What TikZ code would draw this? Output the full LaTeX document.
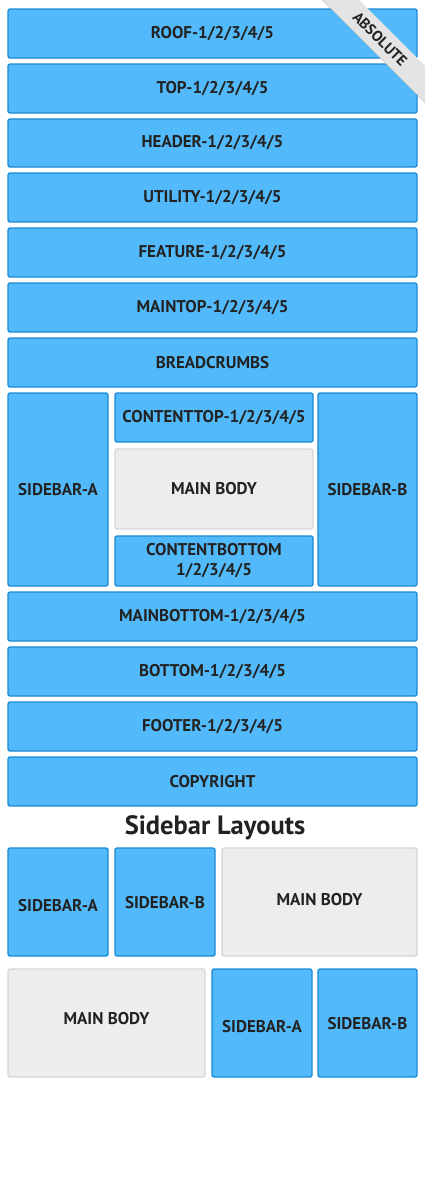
\documentclass[tikz,border=0pt]{standalone}
\usepackage{fontspec}
\setmainfont{PT Sans}
\definecolor{bfill}{HTML}{52B9FA}
\definecolor{bdraw}{HTML}{1A8AD6}
\definecolor{gfill}{HTML}{EDEDED}
\definecolor{gdraw}{HTML}{D6D6D6}
\definecolor{txt}{HTML}{222222}
\definecolor{ribbon}{HTML}{E4E4E4}
\tikzset{
  blk/.style={draw=bdraw, fill=bfill, line width=1.3pt, rounded corners=2pt, inner sep=0pt, outer sep=0pt,
    font=\bfseries\fontsize{17}{20}\selectfont, text=txt, align=center},
  gry/.style={blk, draw=gdraw, fill=gfill},
}
\newcommand{\bx}[7]{% style, name, x1, y1, x2, y2, text
  \node[#1, minimum width={(#5)-(#3)}, minimum height={(#6)-(#4)}] (#2) at ({((#3)+(#5))/2},{((#4)+(#6))/2}) {#7};}
\begin{document}
\begin{tikzpicture}[x=1pt,y=-1pt]
\useasboundingbox (0,0) rectangle (425,1200);
\fill[white] (0,0) rectangle (425,1200);
\bx{blk}{roof}{8}{9}{417}{58}{ROOF-1/2/3/4/5}
\bx{blk}{top}{8}{64}{417}{113}{TOP-1/2/3/4/5}
\bx{blk}{header}{8}{119}{417}{167}{HEADER-1/2/3/4/5}
\bx{blk}{utility}{8}{173}{417}{222}{UTILITY-1/2/3/4/5}
\bx{blk}{feature}{8}{228}{417}{277}{FEATURE-1/2/3/4/5}
\bx{blk}{maintop}{8}{283}{417}{332}{MAINTOP-1/2/3/4/5}
\bx{blk}{bread}{8}{338}{417}{387}{BREADCRUMBS}
\bx{blk}{sa}{8}{393}{108}{586}{SIDEBAR-A}
\bx{blk}{ctop}{115}{393}{313}{442}{CONTENTTOP-1/2/3/4/5}
\bx{gry}{main}{115}{449}{313}{529}{MAIN BODY}
\bx{blk}{cbot}{115}{536}{313}{586}{CONTENTBOTTOM\\1/2/3/4/5}
\bx{blk}{sb}{318}{393}{417}{586}{SIDEBAR-B}
\bx{blk}{mainbottom}{8}{592}{417}{641}{MAINBOTTOM-1/2/3/4/5}
\bx{blk}{bottom}{8}{647}{417}{696}{BOTTOM-1/2/3/4/5}
\bx{blk}{footer}{8}{702}{417}{751}{FOOTER-1/2/3/4/5}
\bx{blk}{copyright}{8}{757}{417}{806}{COPYRIGHT}
\node[text=txt, font=\bfseries\fontsize{26.5}{30}\selectfont, inner sep=0pt] (title) at (215,828) {Sidebar Layouts};
\bx{blk, text height=20pt}{lsa}{8}{848}{108}{956}{SIDEBAR-A}
\bx{blk, text height=14pt}{lsb}{115}{848}{215}{956}{SIDEBAR-B}
\bx{gry, text depth=6pt}{lmain}{222}{848}{417}{956}{MAIN BODY}
\bx{gry, text depth=10pt}{rmain}{8}{969}{205}{1077}{MAIN BODY}
\bx{blk, text height=20pt}{rsa}{212}{969}{312}{1077}{SIDEBAR-A}
\bx{blk, text height=14pt}{rsb}{318}{969}{417}{1077}{SIDEBAR-B}
% ribbon
\begin{scope}
\clip (0,0) rectangle (425,1200);
\fill[black!22, shift={(0.8,1.6)}] (303,-20) -- (339,-20) -- (469,110) -- (433,110) -- cycle;
\fill[ribbon] (303,-20) -- (339,-20) -- (469,110) -- (433,110) -- cycle;
\node[rotate=-45, text=txt, font=\bfseries\fontsize{15}{16}\selectfont, inner sep=0pt] (abs) at (380,39) {ABSOLUTE};
\end{scope}
\end{tikzpicture}
\end{document}
